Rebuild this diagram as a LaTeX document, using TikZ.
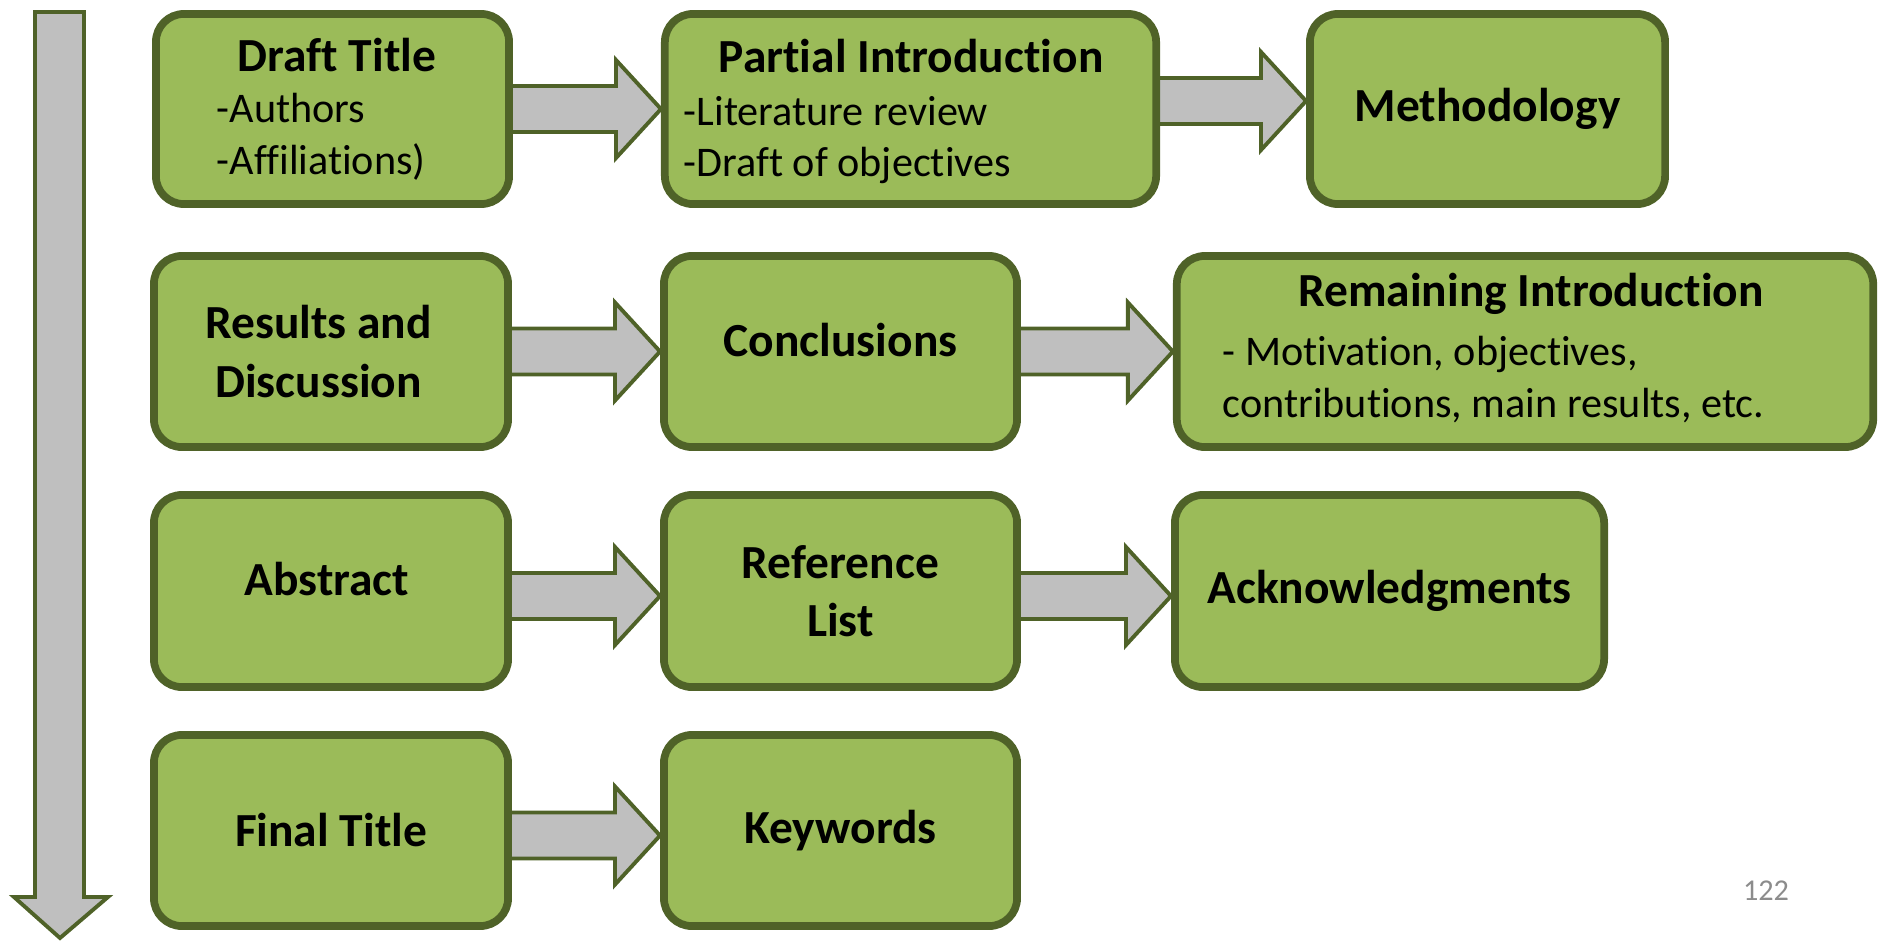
\documentclass[tikz,border=0pt]{standalone}
\usepackage{fontspec}
\setmainfont{Carlito}[Ligatures={NoCommon,NoContextual}]
\usetikzlibrary{calc,backgrounds}
\definecolor{boxgreen}{HTML}{9BBB59}
\definecolor{boxedge}{HTML}{4F6228}
\definecolor{arrowgray}{HTML}{BFBFBF}
\definecolor{pagegray}{HTML}{8C8C8C}

% block arrow from #1 to #2, shifted up by #3
\newcommand{\flowarrow}[3]{%
	\draw[flow] let \p1=(#1.east), \p2=(#2.west) in
	(\x1-0.05cm,\y1+#3+0.23cm) -- (\x2-0.45cm,\y1+#3+0.23cm) -- (\x2-0.45cm,\y1+#3+0.49cm)
	-- (\x2,\y1+#3) -- (\x2-0.45cm,\y1+#3-0.49cm) -- (\x2-0.45cm,\y1+#3-0.23cm)
	-- (\x1-0.05cm,\y1+#3-0.23cm) -- cycle;}

\begin{document}
\begin{tikzpicture}[x=0.01cm,y=-0.01cm,
	stage/.style={draw=boxedge, line width=2.2pt, fill=boxgreen, rounded corners=0.28cm,
		inner sep=0pt, font=\fontsize{13.5}{16.5}\selectfont\bfseries, align=center},
	flow/.style={draw=boxedge, line width=1.1pt, fill=arrowgray},
	heading/.style={font=\fontsize{13.5}{16.5}\selectfont\bfseries, anchor=base, inner sep=0pt},
	item/.style={font=\fontsize{12}{14.8}\selectfont, anchor=base west, inner sep=0pt}]
	\useasboundingbox (0,0) rectangle (1879,942);
	% row 1
	\node[stage, minimum width=3.53cm, minimum height=1.90cm] (dtitle) at (332.5,109) {};
	\node[stage, minimum width=4.91cm, minimum height=1.90cm] (pintro) at (910.5,109) {};
	\node[stage, minimum width=3.55cm, minimum height=1.90cm] (method) at (1487.5,109) {Methodology};
	\node[heading] (dtitlehd) at (337,71) {Draft Title};
	\node[item] (authors) at (216,122) {-Authors};
	\node[item] (affil) at (216,174) {-Affiliations)};
	\node[heading] (pintrohd) at (911,72) {Partial Introduction};
	\node[item] (litrev) at (683,125) {-Literature review};
	\node[item] (objdraft) at (683,176) {-Draft of objectives};
	% row 2
	\node[stage, minimum width=3.54cm, minimum height=1.91cm] (results) at (331,351.5) {\hspace*{-0.25cm}Results and\\\hspace*{-0.25cm}Discussion};
	\node[stage, minimum width=3.53cm, minimum height=1.91cm] (concl) at (840.5,351.5) {};
	\node[heading, anchor=center] (concltxt) at (840.5,340.5) {Conclusions};
	\node[stage, minimum width=6.96cm, minimum height=1.91cm] (remintro) at (1525,351.5) {};
	\node[heading] (remintrohd) at (1531,306) {Remaining Introduction};
	\node[item] (motiv) at (1222,365) {- Motivation, objectives,};
	\node[item] (contrib) at (1222,417) {contributions, main results, etc.};
	% row 3
	\node[stage, minimum width=3.54cm, minimum height=1.92cm] (abstract) at (331,591) {};
	\node[heading, anchor=center] (abstracttxt) at (327,579) {Abstract};
	\node[stage, minimum width=3.53cm, minimum height=1.92cm] (reflist) at (840.5,591) {Reference\\List};
	\node[stage, minimum width=4.29cm, minimum height=1.92cm] (ack) at (1389.5,591) {Acknowledgments};
	% row 4
	\node[stage, minimum width=3.54cm, minimum height=1.91cm] (ftitle) at (331,830.5) {Final Title};
	\node[stage, minimum width=3.53cm, minimum height=1.91cm] (keywords) at (840.5,830.5) {Keywords};
	% arrows behind the boxes
	\begin{scope}[on background layer]
		\flowarrow{dtitle}{pintro}{0cm}
		\flowarrow{pintro}{method}{0.08cm}
		\flowarrow{results}{concl}{0cm}
		\flowarrow{concl}{remintro}{0cm}
		\flowarrow{abstract}{reflist}{-0.05cm}
		\flowarrow{reflist}{ack}{-0.05cm}
		\flowarrow{ftitle}{keywords}{-0.05cm}
	\end{scope}
	\draw[flow] (35,12) -- (84,12) -- (84,897) -- (108,897) -- (60,938) -- (14,897) -- (35,897) -- cycle;
	\node[text=pagegray, font=\fontsize{8.6}{10}\selectfont] (pageno) at (1766,891) {122};
\end{tikzpicture}
\end{document}
